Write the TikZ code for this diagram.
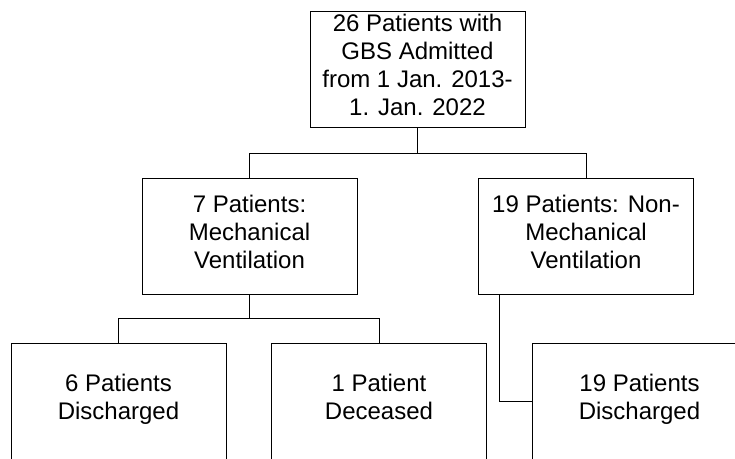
\documentclass[tikz,border=0pt]{standalone}
\usepackage{fontspec}
\setmainfont{Liberation Sans}
\begin{document}
\begin{tikzpicture}[x=1pt,y=-1pt,line width=1pt,
    box/.style={draw, minimum width=215pt, minimum height=116pt, align=center,
        font=\fontsize{24}{28}\selectfont, inner sep=0pt,
        execute at begin node={\rule{0pt}{25.5pt}}, execute at end node=\strut}]
            \clip (0,0) rectangle (735,458);
            \node[box] (all) at (417.5,69.5) {26 Patients with\\GBS Admitted\\from 1 Jan. 2013-\\1. Jan. 2022};
            \node[box] (mv) at (249.5,236) {7 Patients:\\Mechanical\\Ventilation};
            \node[box] (nmv) at (586,236) {19 Patients: Non-\\Mechanical\\Ventilation};
            \node[box] (mvdis) at (118.5,401) {6 Patients\\Discharged};
            \node[box] (mvdec) at (379,401) {1 Patient\\Deceased};
            \node[box] (nmvdis) at (639.5,401) {19 Patients\\Discharged};
            \draw (all.south) -- ++(0,25) -| (mv.north);
            \draw (all.south) -- ++(0,25) -| (nmv.north);
            \draw (mv.south) -- ++(0,24) -| (mvdis.north);
            \draw (mv.south) -- ++(0,24) -| (mvdec.north);
            \draw ([xshift=21pt]nmv.south west) |- (nmvdis.west);
        \end{tikzpicture}
\end{document}
